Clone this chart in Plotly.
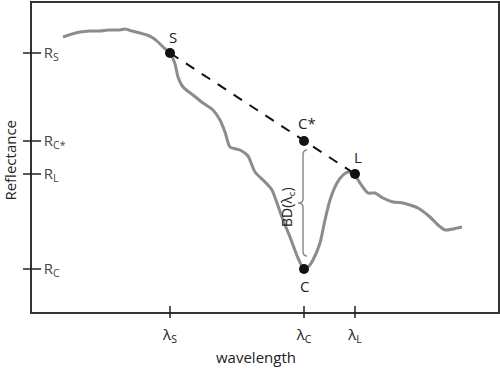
import plotly.graph_objects as go

# Spectrum (wavelength units, reflectance units)
wl = [63, 72, 80, 90, 100, 108, 113, 120, 125, 132, 140, 147, 153, 158, 163, 170,
      175, 178, 183, 193, 203, 213, 220, 225, 230, 240, 248, 255, 263, 268, 272,
      277, 283, 290, 298, 304, 309, 313, 320, 325, 330, 337, 343, 348, 354, 360,
      368, 375, 383, 393, 403, 410, 418, 430, 438, 445, 453, 462]
refl_px = [37, 34, 32, 31, 31, 30, 30, 30, 29, 31, 33, 35, 38, 42, 47, 53,
           64, 77, 87, 95, 103, 110, 120, 132, 147, 150, 156, 172, 180, 185, 190,
           203, 220, 237, 258, 269, 266, 260, 243, 220, 200, 183, 175, 172, 174, 183,
           193, 193, 198, 202, 203, 205, 208, 217, 225, 230, 229, 227]
refl = [312 - v for v in refl_px]

# Key points
pt_names = ["S", "C*", "L", "C"]
pt_x = [170, 304, 355, 304]
pt_y = [259, 171, 138, 43]

# Tick labels
ytick_vals = [259, 171, 138, 43]
ytick_text = ["R<sub>S</sub>", "R<sub>C*</sub>", "R<sub>L</sub>", "R<sub>C</sub>"]
xtick_vals = [170, 304, 355]
xtick_text = ["λ<sub>S</sub>", "λ<sub>C</sub>", "λ<sub>L</sub>"]
x_title = "wavelength"
y_title = "Reflectance"

FONT = "Open Sans"
fig = go.Figure()

fig.add_trace(go.Scatter(x=wl, y=refl, mode="lines",
                         line=dict(color="#8c8c8c", width=3, shape="spline", smoothing=0.6),
                         hoverinfo="skip", showlegend=False))
# continuum line S -> L
fig.add_trace(go.Scatter(x=[pt_x[0], pt_x[2]], y=[pt_y[0], pt_y[2]], mode="lines",
                         line=dict(color="#111", width=2, dash="10px,9px"),
                         showlegend=False))
fig.add_trace(go.Scatter(x=pt_x, y=pt_y, mode="markers",
                         marker=dict(color="#111", size=10), showlegend=False))

shifts = {"S": 16, "C*": 18, "L": 17, "C": -17}
for n, x, y in zip(pt_names, pt_x, pt_y):
    fig.add_annotation(x=x, y=y, text=n, showarrow=False, yshift=shifts[n],
                       xshift=3 if n != "C" else 0,
                       font=dict(family=FONT, size=15, color="#222"))

# brace between C* and C
xc = pt_x[1] - 1
top = pt_y[1] - 9
bot = pt_y[3] + 13
mid = (top + bot) / 2
path = (f"M {xc+4},{top} Q {xc},{top} {xc},{top-5} L {xc},{mid+4} "
        f"Q {xc},{mid} {xc-5},{mid} Q {xc},{mid} {xc},{mid-4} "
        f"L {xc},{bot+5} Q {xc},{bot} {xc+4},{bot}")
fig.add_shape(type="path", path=path, xref="x", yref="y",
              line=dict(color="#8c8c8c", width=1.5))
fig.add_annotation(x=xc - 16, y=mid - 4, text="BD(λ<sub>c</sub>)", textangle=-90,
                   showarrow=False, font=dict(family=FONT, size=14, color="#222"))

# tick marks crossing the axes
for v in ytick_vals:
    fig.add_shape(type="line", xref="x domain", yref="y", x0=-9/466, x1=9/466,
                  y0=v, y1=v, line=dict(color="#222", width=1.5))
for v in xtick_vals:
    fig.add_shape(type="line", xref="x", yref="y domain", x0=v, x1=v,
                  y0=-6/309, y1=6/309, line=dict(color="#222", width=1.5))

# axis titles
fig.add_annotation(xref="paper", yref="paper", x=0.48, y=-45/309, yanchor="middle",
                   text=x_title, showarrow=False, font=dict(family=FONT, size=15, color="#222"))
fig.add_annotation(xref="paper", yref="paper", x=-22/466, y=0.49, xanchor="center",
                   text=y_title, textangle=-90, showarrow=False,
                   font=dict(family=FONT, size=15, color="#222"))

fig.update_layout(
    width=500, height=376, margin=dict(l=32, r=2, t=3, b=64),
    plot_bgcolor="white", paper_bgcolor="white",
    font=dict(family=FONT, size=14, color="#222"),
    xaxis=dict(range=[32, 498], showgrid=False, zeroline=False, showline=True,
               mirror=True, linecolor="#333", linewidth=1.5, ticks="",
               tickvals=xtick_vals, ticktext=xtick_text, ticklabelstandoff=8,
               tickfont=dict(size=15), automargin=False),
    yaxis=dict(range=[0, 309], showgrid=False, zeroline=False, showline=True,
               mirror=True, linecolor="#333", linewidth=1.5, ticks="",
               tickvals=ytick_vals, ticktext=ytick_text,
               ticklabelposition="inside", ticklabelstandoff=12,
               tickfont=dict(size=15), automargin=False),
)

fig.write_html("out.html", config={"displayModeBar": False},
               post_script="document.body.style.margin='0';")
